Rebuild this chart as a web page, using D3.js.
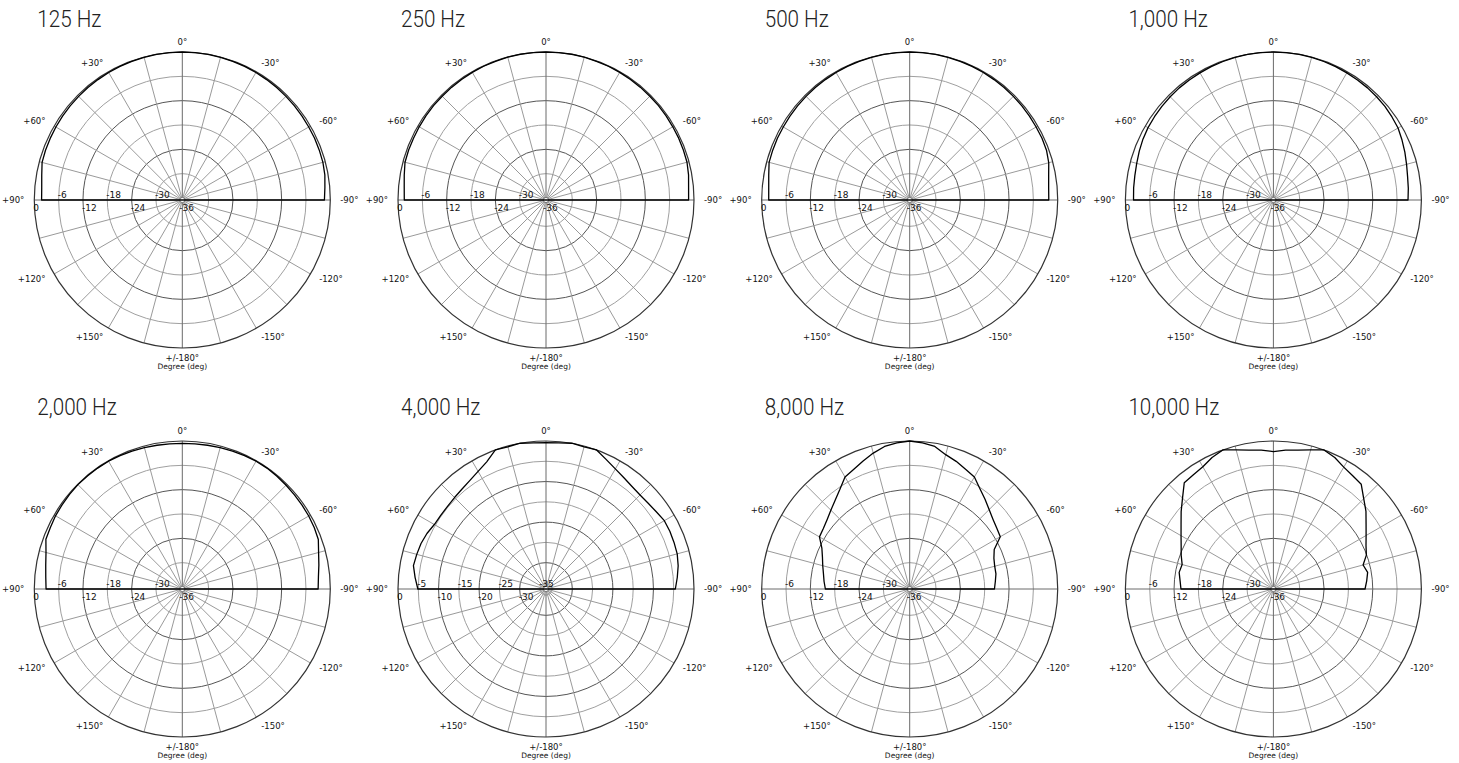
<!DOCTYPE html>
<html>
<head>
<meta charset="utf-8">
<script src="https://cdn.jsdelivr.net/npm/d3@7"></script>
<style>
  html, body { margin: 0; padding: 0; background: #fff; }
  svg { display: block; }
  .title { font-family: "Roboto", "Liberation Sans", sans-serif; font-weight: 300; font-size: 24px; fill: #222; }
  .alab, .tlab, .xlab { font-family: "DejaVu Sans", sans-serif; fill: #111; }
</style>
</head>
<body>
<svg id="chart" width="1459" height="763"></svg>
<script>
// Measurement angles, -90° (right) through 0° (on-axis) to +90° (left)
const angles = d3.range(-90, 91, 5);

// Relative level (dB) at each angle, one list per band
const resp125 = [-1.45,-1.2,-0.8,-0.6,-0.55,-0.5,-0.5,-0.45,-0.4,-0.35,-0.3,-0.25,-0.2,-0.15,-0.1,-0.1,-0.05,0,0,
                 0,-0.05,-0.1,-0.1,-0.15,-0.2,-0.25,-0.3,-0.35,-0.4,-0.45,-0.5,-0.55,-0.6,-0.7,-1.3,-1.7,-1.8];
const resp250 = [-1.33,-1.2,-0.8,-0.5,-0.45,-0.4,-0.4,-0.35,-0.3,-0.3,-0.25,-0.2,-0.15,-0.1,-0.1,-0.05,0,0,0,
                 0,0,-0.05,-0.1,-0.1,-0.15,-0.2,-0.25,-0.3,-0.3,-0.35,-0.4,-0.45,-0.45,-0.5,-1.0,-1.4,-1.55];
const resp500 = [-2.2,-2.1,-1.7,-1.0,-0.6,-0.5,-0.5,-0.45,-0.4,-0.35,-0.3,-0.25,-0.2,-0.15,-0.1,-0.1,-0.05,0,0,
                 0,-0.05,-0.1,-0.1,-0.15,-0.2,-0.25,-0.3,-0.35,-0.4,-0.45,-0.5,-0.5,-0.55,-0.6,-1.2,-1.6,-1.73];
const resp1000 = [-3.3,-3.1,-2.9,-2.5,-2.0,-1.5,-1.0,-0.8,-0.6,-0.5,-0.4,-0.35,-0.3,-0.2,-0.15,-0.1,-0.05,0,0,
                  0,-0.05,-0.1,-0.15,-0.2,-0.3,-0.35,-0.4,-0.5,-0.6,-0.7,-0.8,-1.0,-1.3,-1.6,-1.8,-1.9,-2.0];
const resp2000 = [-3.0,-2.8,-2.3,-1.7,-0.8,-0.6,-0.5,-0.45,-0.4,-0.3,-0.2,-0.1,-0.1,-0.2,-0.3,-0.4,-0.5,-0.55,-0.6,
                  -0.55,-0.5,-0.4,-0.3,-0.2,-0.1,-0.1,-0.1,-0.1,-0.2,-0.3,-0.4,-0.6,-0.7,-1.7,-2.3,-2.7,-2.9];
const resp4000 = [-4.6,-4.0,-3.4,-3.0,-2.9,-2.8,-2.8,-3.3,-3.6,-3.7,-3.5,-3.0,-2.3,-1.3,0,-0.2,0,-0.3,-0.4,
                  -0.3,0,-0.2,0,-1.9,-3.0,-3.8,-4.3,-4.6,-4.8,-4.8,-4.7,-4.1,-3.7,-3.5,-3.3,-4.1,-4.9];
const resp8000 = [-15.6,-15.3,-14.9,-14.8,-14.4,-13.5,-10.7,-10.3,-9.7,-8.8,-7.6,-6.3,-4.6,-3.9,-3.0,-2.2,-0.8,-0.3,0,
                  -0.3,-0.8,-1.8,-2.9,-3.9,-4.6,-6.5,-7.9,-9.0,-9.9,-10.5,-10.8,-12.6,-13.6,-14.3,-14.9,-15.3,-15.7];
const resp10000 = [-13.9,-13.4,-12.9,-13.6,-12.1,-11.3,-10.1,-8.6,-6.7,-5.0,-2.8,-2.4,-1.8,-0.7,0,-1.0,-1.7,-2.1,-2.6,
                   -2.1,-1.7,-1.0,0,-0.7,-1.7,-2.1,-2.3,-4.8,-6.8,-8.7,-10.2,-11.4,-12.3,-13.2,-12.9,-13.4,-13.7];

const titles = ["125 Hz", "250 Hz", "500 Hz", "1,000 Hz", "2,000 Hz", "4,000 Hz", "8,000 Hz", "10,000 Hz"];
const responses = [resp125, resp250, resp500, resp1000, resp2000, resp4000, resp8000, resp10000];

// Ring levels: 6 dB steps, except the 4 kHz plot which uses 5 dB steps
const dbTicks6 = [0, -6, -12, -18, -24, -30, -36];
const dbTicks5 = [0, -5, -10, -15, -20, -25, -30, -35];
const tickSets = [dbTicks6, dbTicks6, dbTicks6, dbTicks6, dbTicks6, dbTicks5, dbTicks6, dbTicks6];

const angleTicks = [0, 30, 60, 90, 120, 150, 180, -150, -120, -90, -60, -30];
const angleLabels = ["0°", "+30°", "+60°", "+90°", "+120°", "+150°", "+/-180°", "-150°", "-120°", "-90°", "-60°", "-30°"];
const axisTitle = "Degree (deg)";

const svg = d3.select("#chart");
const R = 148;
const rScale = d3.scaleLinear().domain([-36.5, 0]).range([0, R]);
const toRad = d => d * Math.PI / 180;

titles.forEach((title, i) => {
  const col = i % 4, row = Math.floor(i / 4);
  const cx = 182.3 + col * 363.7;
  const cy = 200 + row * 389;
  const ticks = tickSets[i];
  const step = Math.abs(ticks[1]);
  const g = svg.append("g").attr("transform", `translate(${cx},${cy})`);

  // condensed panel heading
  svg.append("text").attr("class", "title")
    .attr("transform", `translate(${cx - 145},${27 + row * 388}) scale(0.86,1)`)
    .text(title);

  // concentric level rings (every second ring drawn darker)
  g.selectAll("circle.ring").data(ticks.slice(1)).join("circle")
    .attr("class", "ring")
    .attr("r", d => rScale(d))
    .attr("fill", "none")
    .attr("stroke", d => (Math.round(-d / step) % 2 === 0) ? "#555" : "#a0a0a0")
    .attr("stroke-width", 1);

  // radial spokes every 15°
  g.selectAll("line.spoke").data(d3.range(0, 360, 15)).join("line")
    .attr("class", "spoke")
    .attr("x1", 0).attr("y1", 0)
    .attr("x2", d => R * Math.sin(toRad(d)))
    .attr("y2", d => -R * Math.cos(toRad(d)))
    .attr("stroke", d => d % 90 === 0 ? "#6a6a6a" : "#9a9a9a")
    .attr("stroke-width", 1);

  // outer boundary
  g.append("circle").attr("r", rScale(0))
    .attr("fill", "none").attr("stroke", "#333").attr("stroke-width", 1.2);

  // hub
  g.append("circle").attr("r", 2.6)
    .attr("fill", "#fff").attr("stroke", "#777").attr("stroke-width", 1);

  // response curve
  const radial = d3.lineRadial()
    .angle(d => -toRad(d.a))
    .radius(d => rScale(d.v))
    .curve(d3.curveLinearClosed);
  const pts = angles.map((a, k) => ({ a, v: responses[i][k] }));
  g.append("path").attr("d", radial(pts))
    .attr("fill", "none").attr("stroke", "#000").attr("stroke-width", 1.3)
    .attr("stroke-linejoin", "round");

  // level labels along the left horizontal axis, alternating above / below
  g.selectAll("text.tlab").data(ticks).join("text")
    .attr("class", "tlab")
    .attr("x", d => -rScale(d) - 1)
    .attr("y", (d, k) => k % 2 === 1 ? -2 : 11)
    .attr("font-size", 9)
    .text(d => String(d));

  // angle labels
  g.selectAll("text.alab").data(angleTicks).join("text")
    .attr("class", "alab")
    .attr("x", d => -(R + 10) * Math.sin(toRad(d)))
    .attr("y", d => -(R + 10) * Math.cos(toRad(d)) + 3)
    .attr("text-anchor", d => (d === 0 || d === 180) ? "middle" : (d > 0 ? "end" : "start"))
    .attr("font-size", 8.5)
    .text((d, k) => angleLabels[k]);

  g.append("text").attr("class", "xlab")
    .attr("x", 0).attr("y", R + 21)
    .attr("text-anchor", "middle").attr("font-size", 7.5)
    .text(axisTitle);
});
</script>
</body>
</html>
